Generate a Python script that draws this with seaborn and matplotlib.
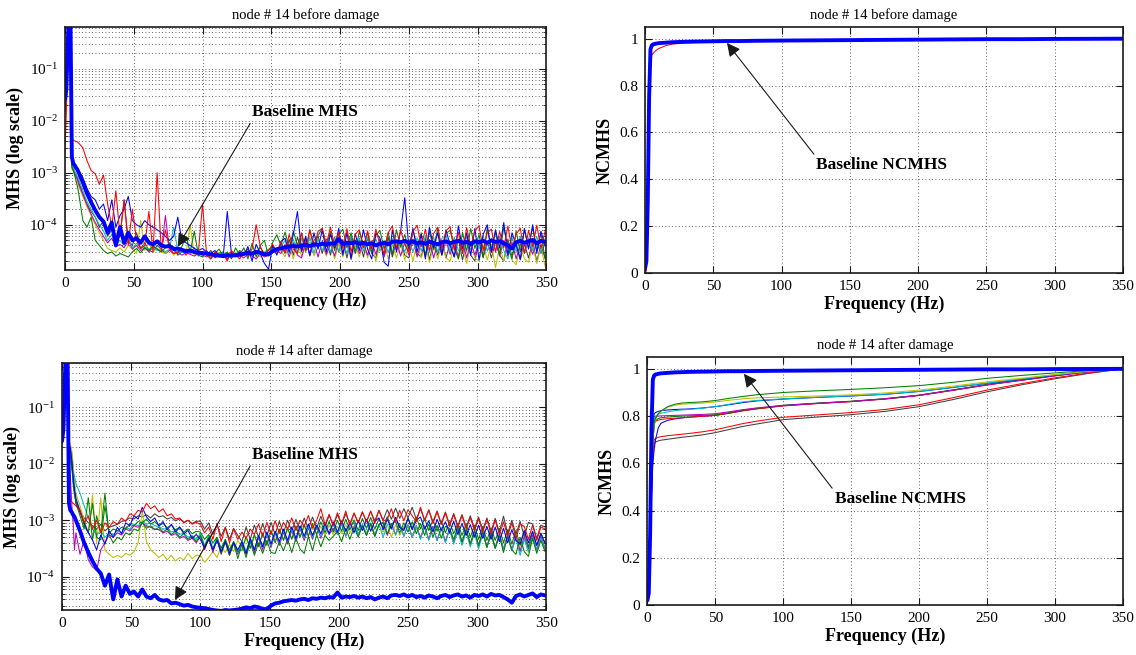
import numpy as np
import matplotlib
matplotlib.use("Agg")
import matplotlib.pyplot as plt
from matplotlib.ticker import FuncFormatter, LogLocator, NullFormatter, MultipleLocator
import seaborn as sns

# ---------------------------------------------------------------------------
# Data
# ---------------------------------------------------------------------------
# Frequency bins of the MHS spectra (Hz): 1 Hz up to 9 Hz, then every 3 Hz
freq = np.concatenate([np.arange(0, 10), np.arange(10, 350, 3)])
MHS_UNIT = 1e-5  # MHS lists below are stored in units of 1e-5

# Baseline MHS (same reference spectrum in both damage states)
mhs_baseline = [
    2500, 4000, 30000, 150000, 90000, 200, 150, 140, 125, 115,
    100, 65, 40, 27, 19, 14, 11.5, 7, 11, 4,
    9, 4.5, 7, 5, 5.5, 4.5, 6, 4.5, 4.2, 4.8,
    4, 3.8, 3.9, 3.4, 3.5, 3.3, 3.1, 3.2, 3.0, 2.9,
    2.85, 2.8, 2.7, 2.6, 2.55, 2.5, 2.6, 2.55, 2.6, 2.65,
    2.75, 2.9, 2.8, 3.0, 2.9, 2.7, 2.7, 3.1, 3.4, 3.5,
    3.7, 3.8, 3.9, 3.8, 4.0, 4.1, 3.9, 4.2, 4.1, 4.3,
    4.2, 4.4, 4.3, 5.3, 4.3, 4.5, 4.4, 4.6, 4.3, 4.5,
    4.2, 4.4, 4.0, 4.3, 4.5, 4.2, 4.7, 4.8, 4.6, 4.9,
    4.5, 4.8, 4.4, 4.6, 4.3, 4.7, 4.5, 4.2, 4.6, 4.8,
    4.4, 4.7, 4.9, 4.5, 4.7, 4.3, 4.8, 4.6, 4.9, 4.5,
    5.0, 4.7, 4.8, 4.4, 4.0, 3.5, 4.6, 4.9, 4.5, 4.8,
    5.1, 4.4, 4.9, 4.7,
]

# MHS of the individual records, before damage
mhs_before_b = [
    2000, 6000, 40000, 150000, 80000, 200, 160, 140, 130, 120,
    110, 80, 50, 35, 30, 20, 25, 12, 30, 9,
    15, 20, 35, 12, 10, 9, 12, 10, 9, 8,
    7, 6, 5, 6, 14, 5, 4.5, 4, 3.5, 3.2,
    3.5, 3.0, 2.8, 3.2, 2.6, 2.4, 18, 2.8, 2.5, 3.0,
    2.6, 3.8, 2.0, 4.2, 2.8, 1.8, 1.4, 4.0, 2.6, 4.8,
    5.5, 3.0, 6.5, 18, 3.2, 6.0, 2.6, 7.0, 3.4, 8.0,
    3.0, 6.5, 3.6, 8.5, 2.6, 7.2, 2.2, 6.8, 3.2, 8.0,
    3.4, 2.2, 7.0, 5.5, 1.9, 1.6, 8.0, 3.0, 7.5, 33,
    3.6, 8.5, 3.0, 6.5, 2.2, 9.0, 3.6, 7.0, 2.6, 8.0,
    4.0, 2.4, 9.5, 3.4, 7.0, 2.6, 8.5, 2.1, 6.5, 10,
    3.0, 8.0, 3.6, 11, 2.6, 7.0, 4.0, 2.2, 8.5, 3.4,
    10, 2.8, 7.5, 4.0,
]
mhs_before_g = [
    1500, 5000, 30000, 120000, 60000, 130, 110, 90, 70, 55,
    40, 12, 9, 14, 5, 4, 3.2, 2.8, 3.0, 2.5,
    2.8, 2.6, 2.4, 3.0, 3.5, 2.9, 3.6, 3.2, 4.0, 3.4,
    3.0, 3.6, 4.5, 3.2, 2.8, 3.8, 6.0, 3.0, 7.5, 2.6,
    2.4, 3.2, 2.2, 2.8, 3.4, 2.5, 3.0, 2.2, 3.6, 2.6,
    3.6, 2.2, 4.4, 2.4, 4.0, 5.0, 2.5, 4.6, 6.4, 4.0,
    7.2, 3.6, 7.5, 4.0, 6.8, 3.2, 8.0, 3.8, 6.2, 8.5,
    3.8, 7.4, 3.2, 6.5, 8.2, 3.6, 7.0, 3.0, 7.4, 4.0,
    7.0, 2.8, 6.2, 7.8, 3.4, 7.2, 2.7, 8.0, 3.7, 6.5,
    3.2, 8.0, 3.8, 7.0, 2.4, 7.5, 3.3, 8.6, 2.8, 6.8,
    7.8, 3.6, 2.2, 7.2, 3.1, 8.4, 3.5, 6.5, 2.3, 8.8,
    3.3, 7.3, 2.6, 9.0, 3.8, 2.2, 7.6, 3.0, 8.0, 3.6,
    9.2, 3.1, 7.0, 2.2,
]
mhs_before_r = [
    250, 1500, 20000, 80000, 40000, 450, 420, 410, 400, 390,
    370, 300, 170, 110, 95, 60, 90, 25, 9, 45,
    6, 30, 4, 20, 5, 3.5, 4.0, 18, 3.0, 100,
    3.2, 8, 3.5, 2.8, 3.0, 3.4, 2.6, 3.2, 2.8, 3.0,
    25, 2.6, 2.2, 3.0, 2.4, 2.8, 2.0, 3.2, 2.6, 2.2,
    3.0, 2.5, 3.4, 10, 3.8, 2.6, 3.2, 4.2, 3.0, 4.6,
    3.0, 6.5, 3.4, 2.8, 7.0, 3.2, 8.0, 3.6, 7.5, 8.5,
    4.2, 9.0, 3.8, 7.2, 3.5, 8.4, 3.0, 6.5, 8.0, 3.6,
    7.6, 3.4, 8.2, 4.0, 2.8, 7.0, 9.5, 3.5, 8.0, 4.2,
    3.0, 7.4, 9.8, 3.8, 8.2, 3.2, 6.8, 9.0, 3.5, 7.6,
    9.2, 3.3, 7.2, 2.8, 8.8, 3.8, 7.6, 9.6, 3.2, 7.0,
    8.2, 3.0, 7.4, 3.6, 9.4, 3.3, 6.6, 8.6, 2.8, 7.8,
    3.8, 9.8, 3.5, 7.4,
]
mhs_before_c = [
    1900, 5500, 36000, 140000, 75000, 150, 125, 110, 95, 85,
    75, 45, 28, 20, 14, 10, 7.5, 5, 6.5, 4.2,
    5.0, 4.0, 5.5, 3.6, 4.4, 3.5, 3.8, 3.4, 3.6, 3.2,
    3.5, 3.0, 3.4, 9, 3.2, 2.9, 3.1, 2.8, 3.0, 2.7,
    2.9, 2.6, 2.8, 2.5, 2.7, 2.9, 2.4, 2.8, 2.6, 3.0,
    2.7, 3.1, 2.8, 3.2, 2.6, 3.0, 3.4, 3.6, 3.2, 3.8,
    5.0, 2.8, 5.3, 2.9, 5.6, 3.0, 5.8, 2.8, 5.4, 3.2,
    5.0, 3.0, 5.6, 3.1, 4.8, 2.8, 6.0, 3.0, 5.6, 3.1,
    5.8, 3.0, 5.3, 3.1, 5.0, 2.9, 5.4, 3.2, 5.0, 3.0,
    5.2, 3.0, 5.6, 3.1, 6.2, 3.0, 5.8, 3.0, 5.4, 6.4,
    3.0, 5.8, 3.2, 2.8, 6.0, 3.3, 5.0, 3.4, 6.2, 3.1,
    5.5, 3.0, 5.8, 3.2, 2.2, 5.7, 3.0, 6.0, 2.9, 5.6,
    3.2, 6.0, 2.9, 5.4,
]
mhs_before_m = [
    1700, 4500, 32000, 120000, 60000, 130, 110, 95, 85, 75,
    60, 38, 24, 16, 11, 8, 6, 4.5, 5.5, 3.8,
    4.2, 3.6, 5.0, 3.4, 4.0, 3.2, 3.6, 3.0, 3.8, 3.4,
    3.0, 15, 3.2, 2.8, 3.0, 2.6, 2.9, 2.7, 2.5, 2.8,
    2.6, 2.4, 2.8, 2.3, 2.6, 2.5, 2.2, 2.7, 2.4, 2.6,
    2.3, 2.7, 2.5, 2.2, 2.8, 2.4, 2.6, 2.9, 3.2, 2.8,
    4.2, 2.4, 4.5, 2.6, 2.3, 4.8, 2.6, 4.5, 2.4, 4.9,
    2.7, 4.2, 2.5, 5.0, 2.9, 4.6, 2.4, 5.1, 2.8, 4.4,
    2.6, 4.9, 2.7, 5.2, 2.4, 4.7, 2.7, 5.0, 2.5, 4.6,
    2.6, 5.0, 2.4, 4.7, 2.7, 5.2, 2.3, 4.6, 2.6, 4.9,
    2.7, 4.6, 2.4, 5.1, 2.3, 4.7, 2.6, 5.0, 2.4, 4.5,
    2.9, 4.8, 2.5, 5.0, 2.5, 4.6, 2.2, 4.4, 2.9, 4.8,
    2.7, 4.6, 2.8, 4.3,
]
mhs_before_y = [
    1600, 4000, 30000, 110000, 50000, 120, 110, 95, 80, 70,
    55, 35, 22, 15, 10, 7, 5, 3.5, 3.2, 3.0,
    3.6, 3.0, 4.0, 3.4, 2.8, 12, 3.2, 4.5, 3.0, 3.6,
    3.0, 2.8, 3.4, 2.6, 3.2, 3.0, 2.8, 10, 2.6, 2.9,
    2.5, 2.8, 2.4, 2.6, 2.9, 2.3, 2.7, 2.5, 2.8, 2.4,
    2.6, 3.0, 2.5, 2.8, 2.4, 2.7, 2.9, 3.0, 2.8, 3.2,
    2.4, 4.2, 2.2, 4.5, 2.5, 3.8, 4.6, 2.5, 3.8, 4.4,
    2.5, 4.6, 2.2, 4.2, 2.4, 4.5, 2.1, 4.2, 2.4, 4.6,
    2.3, 4.4, 2.0, 4.0, 4.6, 2.2, 4.2, 2.3, 4.4, 2.1,
    4.1, 2.0, 4.5, 2.3, 4.2, 1.9, 4.0, 2.2, 4.5, 2.3,
    2.0, 4.2, 2.2, 4.0, 1.8, 4.5, 2.3, 2.0, 4.1, 2.1,
    4.2, 1.5, 3.8, 2.0, 4.2, 2.1, 1.7, 4.0, 2.2, 1.9,
    4.0, 1.8, 3.8, 1.6,
]
mhs_before_k = [
    1800, 5000, 35000, 130000, 70000, 140, 120, 100, 90, 80,
    65, 40, 25, 18, 14, 9, 12, 6, 8, 5,
    6, 30, 5, 4, 7, 3.5, 4.5, 3.2, 3.0, 4.0,
    3.4, 2.8, 3.2, 3.8, 2.6, 3.0, 3.4, 2.8, 3.6, 2.5,
    3.0, 2.6, 3.2, 2.4, 2.8, 3.0, 2.2, 2.9, 2.5, 3.2,
    2.8, 3.4, 2.6, 3.0, 3.6, 2.8, 3.3, 3.8, 3.2, 4.0,
    2.8, 5.2, 2.6, 5.8, 3.0, 5.5, 2.5, 5.0, 6.0, 2.8,
    5.3, 2.6, 5.8, 3.0, 5.2, 2.3, 5.6, 2.8, 5.0, 2.4,
    5.6, 2.8, 2.3, 5.3, 2.6, 5.8, 2.4, 4.8, 5.0, 2.6,
    2.3, 5.3, 2.8, 2.4, 5.6, 2.1, 4.8, 2.6, 5.0, 2.3,
    4.6, 2.4, 5.3, 2.1, 4.8, 2.6, 2.0, 5.0, 2.4, 4.6,
    2.3, 4.8, 2.6, 2.0, 5.3, 2.4, 4.6, 2.1, 4.3, 2.3,
    4.6, 2.0, 4.0, 2.3,
]

# MHS of the individual records, after damage
mhs_after_b = [
    4000, 9000, 50000, 150000, 90000, 2200, 1800, 1200, 600, 350,
    250, 140, 90, 60, 45, 30, 55, 38, 65, 50,
    75, 58, 90, 80, 120, 105, 170, 115, 95, 110,
    80, 95, 68, 85, 62, 75, 58, 66, 48, 56,
    46, 32, 48, 30, 44, 28, 42, 26, 40, 30,
    42, 26, 48, 30, 54, 34, 62, 38, 64, 42,
    70, 44, 76, 48, 80, 52, 86, 54, 82, 58,
    90, 58, 94, 62, 98, 64, 92, 60, 100, 66,
    104, 64, 96, 110, 68, 104, 70, 112, 74, 66,
    108, 68, 100, 114, 70, 98, 62, 104, 66, 94,
    60, 96, 56, 88, 54, 84, 50, 82, 48, 78,
    46, 76, 42, 72, 40, 68, 44, 38, 66, 40,
    64, 36, 58, 40,
]
mhs_after_g = [
    3500, 8000, 45000, 130000, 80000, 1800, 1400, 900, 500, 300,
    200, 120, 70, 250, 45, 120, 60, 300, 55, 40,
    50, 45, 60, 55, 70, 65, 90, 72, 80, 68,
    75, 62, 70, 56, 64, 50, 58, 46, 52, 42,
    54, 34, 50, 30, 46, 26, 42, 24, 40, 21,
    38, 22, 42, 24, 40, 26, 44, 27, 26, 42,
    29, 46, 27, 48, 31, 26, 52, 29, 56, 34,
    54, 44, 52, 64, 42, 72, 46, 76, 50, 80,
    54, 88, 52, 84, 92, 58, 86, 96, 60, 90,
    62, 94, 58, 88, 54, 86, 50, 82, 48, 78,
    72, 46, 78, 42, 70, 38, 66, 36, 62, 33,
    58, 32, 54, 27, 52, 30, 25, 50, 28, 23,
    48, 26, 44, 28,
]
mhs_after_g2 = [
    4500, 9500, 48000, 135000, 85000, 2000, 1600, 1000, 450, 280,
    220, 150, 80, 60, 200, 50, 45, 180, 60, 70,
    65, 75, 70, 85, 80, 95, 90, 105, 85, 95,
    80, 88, 74, 82, 68, 76, 62, 70, 58, 64,
    62, 46, 56, 40, 50, 32, 46, 30, 42, 28,
    30, 52, 32, 56, 34, 60, 36, 66, 40, 70,
    44, 74, 46, 80, 50, 84, 52, 88, 56, 94,
    60, 96, 62, 100, 64, 104, 68, 102, 66, 108,
    72, 112, 70, 106, 74, 116, 72, 112, 76, 70,
    110, 72, 114, 70, 108, 66, 102, 64, 98, 60,
    94, 58, 88, 54, 86, 50, 82, 46, 78, 44,
    74, 44, 72, 40, 68, 38, 66, 36, 64, 34,
    62, 36, 60, 38,
]
mhs_after_r = [
    3000, 7000, 40000, 120000, 70000, 250, 220, 210, 200, 190,
    180, 150, 90, 120, 70, 100, 60, 90, 75, 95,
    85, 110, 95, 130, 120, 150, 140, 200, 160, 180,
    140, 160, 120, 130, 105, 110, 90, 100, 85, 92,
    84, 60, 76, 46, 88, 42, 74, 40, 70, 46,
    62, 48, 70, 56, 86, 52, 92, 56, 98, 60,
    92, 70, 110, 66, 100, 78, 122, 72, 100, 160,
    84, 128, 80, 136, 86, 146, 82, 134, 90, 142,
    94, 146, 88, 150, 96, 104, 160, 92, 150, 98,
    154, 120, 94, 170, 100, 150, 88, 140, 84, 134,
    80, 126, 74, 122, 70, 112, 66, 106, 62, 102,
    58, 100, 56, 94, 52, 90, 48, 86, 78, 46,
    82, 44, 76, 70,
]
mhs_after_c = [
    5000, 10000, 45000, 130000, 70000, 1500, 1100, 800, 700, 600,
    450, 300, 180, 110, 70, 55, 65, 50, 60, 55,
    65, 60, 75, 70, 85, 80, 95, 85, 90, 80,
    78, 70, 72, 62, 66, 56, 60, 50, 54, 46,
    58, 36, 54, 32, 50, 28, 46, 26, 42, 27,
    44, 28, 48, 30, 54, 34, 58, 36, 62, 40,
    66, 42, 70, 46, 74, 48, 78, 50, 82, 52,
    80, 58, 86, 56, 88, 54, 84, 92, 56, 86,
    58, 90, 54, 86, 50, 82, 88, 54, 84, 52,
    82, 50, 80, 46, 78, 44, 74, 44, 72, 40,
    68, 38, 66, 36, 62, 34, 60, 31, 58, 34,
    56, 32, 54, 30, 52, 29, 48, 24, 46, 28,
    50, 29, 48, 31,
]
mhs_after_m = [
    6000, 12000, 50000, 140000, 70000, 1500, 600, 200, 90, 30,
    60, 25, 45, 20, 15, 13, 30, 40, 55, 50,
    60, 55, 70, 65, 80, 75, 90, 80, 75, 70,
    68, 60, 64, 54, 58, 48, 52, 44, 48, 40,
    52, 30, 48, 27, 46, 25, 42, 24, 40, 25,
    42, 25, 46, 27, 50, 30, 56, 33, 60, 36,
    62, 38, 66, 42, 72, 44, 74, 46, 80, 48,
    78, 56, 72, 58, 86, 52, 84, 88, 54, 82,
    54, 88, 52, 84, 90, 54, 86, 56, 88, 52,
    84, 50, 82, 48, 80, 46, 78, 44, 74, 42,
    72, 40, 70, 40, 68, 38, 66, 36, 64, 34,
    62, 33, 58, 31, 56, 30, 54, 28, 52, 31,
    54, 30, 52, 32,
]
mhs_after_y = [
    4000, 9000, 45000, 130000, 80000, 2500, 2200, 1800, 1000, 500,
    300, 180, 100, 60, 280, 40, 250, 30, 25, 22,
    24, 22, 26, 24, 28, 40, 150, 42, 30, 26,
    22, 25, 20, 24, 19, 22, 20, 26, 21, 24,
    24, 18, 22, 28, 22, 34, 27, 38, 28, 44,
    34, 48, 32, 52, 36, 56, 40, 62, 44, 66,
    46, 68, 48, 74, 52, 78, 54, 82, 56, 78,
    54, 82, 56, 78, 58, 84, 60, 80, 56, 78,
    56, 80, 58, 82, 62, 86, 50, 84, 54, 76,
    82, 50, 72, 52, 74, 46, 76, 44, 72, 42,
    70, 40, 68, 38, 66, 36, 64, 34, 62, 33,
    58, 32, 56, 30, 54, 29, 52, 30, 50, 27,
    52, 28, 50, 30,
]
mhs_after_k = [
    3500, 9000, 50000, 140000, 90000, 2200, 2000, 1500, 800, 400,
    200, 140, 110, 90, 80, 70, 85, 65, 75, 80,
    85, 95, 100, 110, 105, 120, 115, 125, 110, 130,
    115, 120, 105, 112, 98, 106, 92, 100, 88, 96,
    96, 70, 90, 56, 84, 52, 76, 46, 72, 54,
    42, 76, 46, 82, 50, 88, 52, 92, 56, 96,
    60, 100, 64, 104, 66, 110, 70, 114, 72, 118,
    76, 122, 80, 126, 84, 130, 86, 134, 90, 138,
    94, 144, 98, 150, 100, 154, 104, 164, 108, 160,
    110, 170, 104, 160, 98, 154, 94, 146, 88, 140,
    84, 132, 80, 126, 76, 120, 72, 114, 68, 110,
    64, 108, 62, 118, 58, 100, 56, 96, 52, 92,
    86, 48, 82, 76,
]

# Frequency points of the normalized cumulative MHS (Hz)
freq_nc = [0, 1, 2, 3, 4, 5, 6, 8, 10, 15, 20, 25, 30, 40, 50, 60, 70, 80,
           100, 125, 150, 175, 200, 225, 250, 275, 300, 325, 350]

ncmhs_baseline = [0.02, 0.05, 0.3, 0.75, 0.955, 0.972, 0.976, 0.979, 0.981, 0.983,
                  0.985, 0.986, 0.987, 0.988, 0.989, 0.99, 0.99, 0.991, 0.992, 0.993,
                  0.994, 0.995, 0.996, 0.997, 0.998, 0.998, 0.999, 0.9995, 1.0]

ncmhs_before_b = [0.01, 0.04, 0.3, 0.76, 0.955, 0.97, 0.975, 0.978, 0.98, 0.982,
                  0.984, 0.985, 0.986, 0.987, 0.988, 0.989, 0.99, 0.99, 0.991, 0.992,
                  0.993, 0.994, 0.995, 0.996, 0.997, 0.998, 0.999, 0.9995, 1.0]
ncmhs_before_g = [0.01, 0.04, 0.28, 0.74, 0.95, 0.967, 0.972, 0.976, 0.979, 0.982,
                  0.984, 0.985, 0.986, 0.987, 0.988, 0.989, 0.99, 0.99, 0.991, 0.992,
                  0.993, 0.994, 0.995, 0.996, 0.997, 0.998, 0.999, 0.9995, 1.0]
ncmhs_before_r = [0.0, 0.01, 0.15, 0.62, 0.88, 0.93, 0.938, 0.95, 0.958, 0.97,
                  0.977, 0.98, 0.982, 0.985, 0.987, 0.988, 0.989, 0.99, 0.991, 0.992,
                  0.993, 0.994, 0.995, 0.996, 0.997, 0.998, 0.999, 0.9995, 1.0]
ncmhs_before_c = [0.01, 0.04, 0.3, 0.77, 0.955, 0.969, 0.974, 0.978, 0.98, 0.982,
                  0.984, 0.985, 0.986, 0.987, 0.988, 0.989, 0.99, 0.99, 0.991, 0.992,
                  0.993, 0.994, 0.995, 0.996, 0.997, 0.998, 0.999, 0.9995, 1.0]
ncmhs_before_m = [0.01, 0.035, 0.27, 0.73, 0.948, 0.966, 0.972, 0.976, 0.979, 0.982,
                  0.984, 0.985, 0.986, 0.987, 0.988, 0.989, 0.99, 0.99, 0.991, 0.992,
                  0.993, 0.994, 0.995, 0.996, 0.997, 0.998, 0.999, 0.9995, 1.0]
ncmhs_before_y = [0.01, 0.03, 0.25, 0.72, 0.945, 0.964, 0.97, 0.975, 0.978, 0.981,
                  0.983, 0.985, 0.986, 0.987, 0.988, 0.989, 0.99, 0.99, 0.991, 0.992,
                  0.993, 0.994, 0.995, 0.996, 0.997, 0.998, 0.999, 0.9995, 1.0]
ncmhs_before_k = [0.01, 0.04, 0.29, 0.75, 0.952, 0.968, 0.973, 0.977, 0.979, 0.982,
                  0.984, 0.985, 0.986, 0.987, 0.988, 0.989, 0.99, 0.99, 0.991, 0.992,
                  0.993, 0.994, 0.995, 0.996, 0.997, 0.998, 0.999, 0.9995, 1.0]

ncmhs_after_g = [0.02, 0.06, 0.25, 0.55, 0.7, 0.775, 0.79, 0.81, 0.822, 0.84,
                 0.85, 0.855, 0.857, 0.86, 0.866, 0.875, 0.883, 0.89, 0.9, 0.907,
                 0.913, 0.92, 0.929, 0.943, 0.96, 0.972, 0.983, 0.993, 1.0]
ncmhs_after_y = [0.02, 0.06, 0.25, 0.55, 0.69, 0.765, 0.785, 0.81, 0.82, 0.838,
                 0.846, 0.85, 0.852, 0.855, 0.86, 0.867, 0.873, 0.877, 0.881, 0.885,
                 0.89, 0.898, 0.91, 0.927, 0.945, 0.96, 0.976, 0.99, 1.0]
ncmhs_after_c = [0.02, 0.07, 0.27, 0.58, 0.72, 0.79, 0.8, 0.808, 0.812, 0.818,
                 0.823, 0.826, 0.828, 0.833, 0.84, 0.85, 0.86, 0.866, 0.873, 0.88,
                 0.886, 0.893, 0.905, 0.922, 0.94, 0.957, 0.975, 0.99, 1.0]
ncmhs_after_b = [0.02, 0.07, 0.28, 0.6, 0.75, 0.81, 0.815, 0.82, 0.823, 0.826,
                 0.828, 0.829, 0.83, 0.834, 0.84, 0.848, 0.857, 0.864, 0.872, 0.879,
                 0.885, 0.892, 0.904, 0.921, 0.939, 0.956, 0.974, 0.99, 1.0]
ncmhs_after_m = [0.02, 0.06, 0.26, 0.57, 0.72, 0.79, 0.795, 0.8, 0.801, 0.802,
                 0.803, 0.804, 0.805, 0.807, 0.81, 0.818, 0.827, 0.834, 0.845, 0.854,
                 0.862, 0.873, 0.888, 0.91, 0.932, 0.951, 0.97, 0.988, 1.0]
ncmhs_after_g2 = [0.02, 0.06, 0.25, 0.55, 0.69, 0.765, 0.78, 0.79, 0.793, 0.796,
                  0.798, 0.8, 0.801, 0.803, 0.806, 0.815, 0.825, 0.833, 0.846, 0.855,
                  0.863, 0.874, 0.889, 0.911, 0.934, 0.953, 0.972, 0.989, 1.0]
ncmhs_after_r = [0.02, 0.05, 0.22, 0.52, 0.68, 0.77, 0.778, 0.783, 0.786, 0.789,
                 0.791, 0.793, 0.795, 0.799, 0.803, 0.812, 0.822, 0.83, 0.843, 0.853,
                 0.861, 0.872, 0.887, 0.909, 0.932, 0.952, 0.971, 0.988, 1.0]
ncmhs_after_b2 = [0.02, 0.05, 0.2, 0.45, 0.6, 0.66, 0.7, 0.75, 0.77, 0.782,
                  0.788, 0.792, 0.795, 0.799, 0.803, 0.812, 0.823, 0.831, 0.844, 0.854,
                  0.862, 0.873, 0.888, 0.91, 0.933, 0.953, 0.972, 0.989, 1.0]
ncmhs_after_r2 = [0.02, 0.05, 0.2, 0.48, 0.64, 0.7, 0.705, 0.71, 0.713, 0.717,
                  0.72, 0.723, 0.726, 0.733, 0.742, 0.755, 0.768, 0.778, 0.795, 0.805,
                  0.815, 0.828, 0.848, 0.878, 0.91, 0.937, 0.962, 0.983, 1.0]
ncmhs_after_k = [0.02, 0.05, 0.2, 0.47, 0.62, 0.685, 0.69, 0.695, 0.698, 0.702,
                 0.706, 0.71, 0.713, 0.72, 0.73, 0.743, 0.756, 0.766, 0.785, 0.796,
                 0.806, 0.82, 0.84, 0.87, 0.903, 0.932, 0.958, 0.981, 1.0]

# ---------------------------------------------------------------------------
# Style
# ---------------------------------------------------------------------------
sns.set_theme(style="ticks")
plt.rcParams["font.family"] = ["Liberation Serif", "DejaVu Serif"]
plt.rcParams["mathtext.fontset"] = "stix"
for key in ("text.color", "axes.labelcolor", "xtick.color", "ytick.color",
            "axes.edgecolor"):
    plt.rcParams[key] = "black"

C = {"b": (0, 0, 1), "g": (0, 0.5, 0), "r": (1, 0, 0), "c": (0, 0.75, 0.75),
     "m": (0.75, 0, 0.75), "y": (0.75, 0.75, 0), "k": (0.25, 0.25, 0.25)}

THIN = 0.75
THICK = 2.8


def draw(ax, x, series, scale=1.0):
    for values, col, lw in series:
        sns.lineplot(x=np.asarray(x, float), y=np.asarray(values, float) * scale,
                     ax=ax, color=col, lw=lw, estimator=None, sort=False,
                     legend=False)


def frame(ax, title, ylabel):
    ax.set_title(title, fontsize=10.5, pad=6)
    ax.set_xlabel("Frequency (Hz)", fontsize=13, fontweight="bold", labelpad=2)
    ax.set_ylabel(ylabel, fontsize=13, fontweight="bold", labelpad=4)
    ax.set_xlim(0, 350)
    ax.xaxis.set_major_locator(MultipleLocator(50))
    ax.tick_params(which="both", direction="in", top=True, right=True,
                   labelsize=11, color="k", pad=5)
    ax.tick_params(which="major", length=5, width=0.8)
    ax.tick_params(which="minor", length=2.5, width=0.6)
    for sp in ax.spines.values():
        sp.set_visible(True)
        sp.set_linewidth(1.2)
        sp.set_color("k")
    ax.set_facecolor("white")


grid_kw = dict(color="k", linestyle=(0, (1, 3)), linewidth=0.6, alpha=0.9)


def log_panel(ax, ylim):
    ax.set_yscale("log")
    ax.set_ylim(*ylim)
    ax.yaxis.set_major_locator(LogLocator(base=10, numticks=10))
    ax.yaxis.set_minor_locator(LogLocator(base=10, subs=np.arange(2, 10), numticks=20))
    ax.yaxis.set_minor_formatter(NullFormatter())
    ax.grid(True, which="major", axis="both", **grid_kw)
    ax.grid(True, which="minor", axis="y", **grid_kw)


def lin_panel(ax):
    ax.set_ylim(0, 1.05)
    ax.yaxis.set_major_locator(MultipleLocator(0.2))
    ax.yaxis.set_major_formatter(FuncFormatter(lambda v, p: f"{v:g}"))
    ax.grid(True, which="major", axis="both", **grid_kw)


fig = plt.figure(figsize=(11.36, 6.55), dpi=100)
fig.patch.set_facecolor("white")

ax_tl = fig.add_axes([0.0572, 0.5878, 0.4238, 0.3710])
ax_bl = fig.add_axes([0.0546, 0.0687, 0.4264, 0.3771])
ax_tr = fig.add_axes([0.5678, 0.5832, 0.4208, 0.3756])
ax_br = fig.add_axes([0.5699, 0.0763, 0.4187, 0.3786])

arrow_kw = dict(arrowstyle="-|>", color="k", lw=0.8, mutation_scale=20,
                shrinkA=0, shrinkB=0)

# --- MHS before damage ------------------------------------------------------
draw(ax_tl, freq, [
    (mhs_before_k, C["k"], THIN), (mhs_before_y, C["y"], THIN),
    (mhs_before_m, C["m"], THIN), (mhs_before_c, C["c"], THIN),
    (mhs_before_g, C["g"], THIN), (mhs_before_b, C["b"], THIN),
    (mhs_before_r, C["r"], THIN), (mhs_baseline, C["b"], THICK),
], scale=MHS_UNIT)
log_panel(ax_tl, (1.35e-5, 0.63))
frame(ax_tl, "node # 14 before damage", "MHS (log scale)")
ax_tl.annotate("Baseline MHS", xy=(82, 3.8e-5), xytext=(174.5, 1.45e-2),
               ha="center", va="center", fontsize=12.5, fontweight="bold",
               arrowprops=dict(relpos=(0, 0), **arrow_kw))

# --- MHS after damage -------------------------------------------------------
draw(ax_bl, freq, [
    (mhs_after_k, C["k"], THIN), (mhs_after_y, C["y"], THIN),
    (mhs_after_m, C["m"], THIN), (mhs_after_c, C["c"], THIN),
    (mhs_after_g2, C["g"], THIN), (mhs_after_g, C["g"], THIN),
    (mhs_after_b, C["b"], THIN), (mhs_after_r, C["r"], THIN),
    (mhs_baseline, C["b"], THICK),
], scale=MHS_UNIT)
log_panel(ax_bl, (2.6e-5, 0.6))
frame(ax_bl, "node # 14 after damage", "MHS (log scale)")
ax_bl.annotate("Baseline MHS", xy=(81.6, 3.9e-5), xytext=(175.6, 1.45e-2),
               ha="center", va="center", fontsize=12.5, fontweight="bold",
               arrowprops=dict(relpos=(0, 0), **arrow_kw))

# --- NCMHS before damage ----------------------------------------------------
draw(ax_tr, freq_nc, [
    (ncmhs_before_k, C["k"], THIN), (ncmhs_before_y, C["y"], THIN),
    (ncmhs_before_m, C["m"], THIN), (ncmhs_before_c, C["c"], THIN),
    (ncmhs_before_g, C["g"], THIN), (ncmhs_before_b, C["b"], THIN),
    (ncmhs_before_r, C["r"], THIN), (ncmhs_baseline, C["b"], THICK),
])
lin_panel(ax_tr)
frame(ax_tr, "node # 14 before damage", "NCMHS")
ax_tr.annotate("Baseline NCMHS", xy=(60, 0.982), xytext=(173.5, 0.459),
               ha="center", va="center", fontsize=12.5, fontweight="bold",
               arrowprops=dict(relpos=(0, 1), **arrow_kw))

# --- NCMHS after damage -----------------------------------------------------
draw(ax_br, freq_nc, [
    (ncmhs_after_k, C["k"], THIN), (ncmhs_after_r2, C["r"], THIN),
    (ncmhs_after_b2, C["b"], THIN), (ncmhs_after_r, C["r"], THIN),
    (ncmhs_after_g2, C["g"], THIN), (ncmhs_after_m, C["m"], THIN),
    (ncmhs_after_b, C["b"], THIN), (ncmhs_after_c, C["c"], THIN),
    (ncmhs_after_y, C["y"], THIN), (ncmhs_after_g, C["g"], THIN),
    (ncmhs_baseline, C["b"], THICK),
])
lin_panel(ax_br)
frame(ax_br, "node # 14 after damage", "NCMHS")
ax_br.annotate("Baseline NCMHS", xy=(71, 0.979), xytext=(186, 0.447),
               ha="center", va="center", fontsize=12.5, fontweight="bold",
               arrowprops=dict(relpos=(0, 1), **arrow_kw))

fig.savefig("out.png", dpi=100, facecolor="white")
